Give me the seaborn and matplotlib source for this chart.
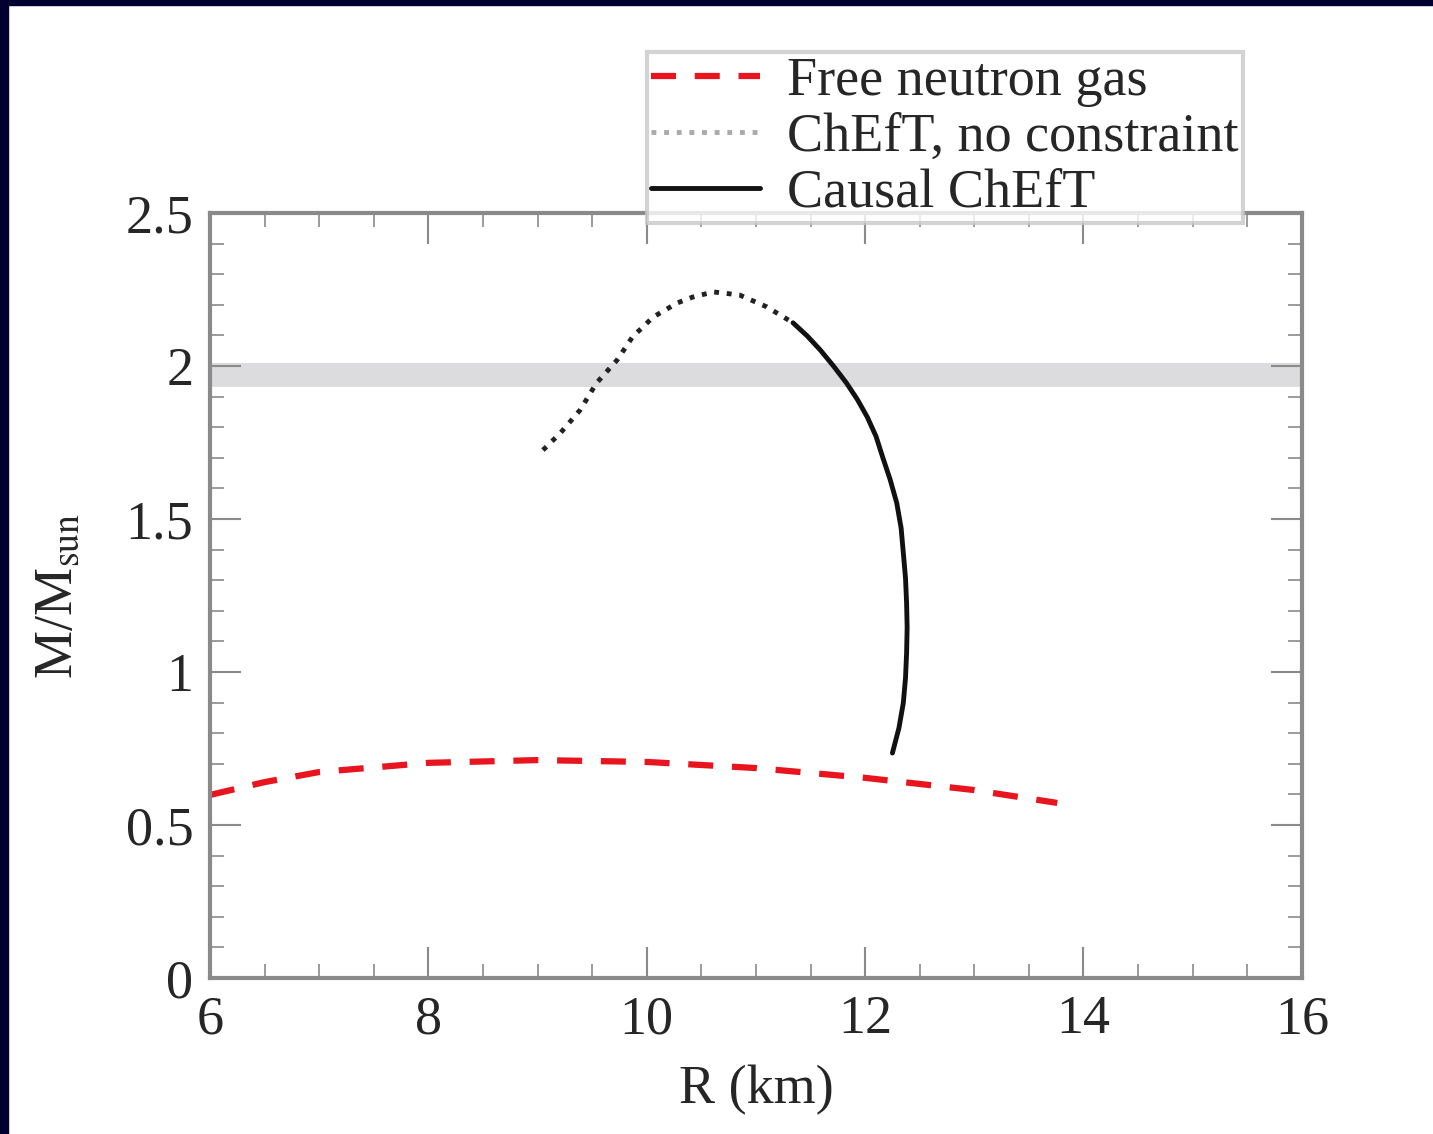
import numpy as np
import pandas as pd
import matplotlib.pyplot as plt
import seaborn as sns
from matplotlib.patches import Rectangle
from matplotlib.ticker import MultipleLocator

# free neutron gas M-R curve
free_r = [6.0, 6.5, 7.0, 8.0, 9.0, 10.0, 11.0, 12.0, 13.0, 13.76]
free_m = [0.598, 0.640, 0.673, 0.703, 0.712, 0.706, 0.686, 0.654, 0.614, 0.572]

# ChEfT without causality constraint (dotted part)
dot_r = [9.05, 9.21, 9.39, 9.54, 9.73, 9.87, 10.06, 10.28, 10.42, 10.61, 10.85, 11.10, 11.34]
dot_m = [1.725, 1.781, 1.856, 1.944, 2.020, 2.095, 2.160, 2.206, 2.225, 2.242, 2.232, 2.193, 2.141]

# causal ChEfT (solid part)
sol_r = [11.34, 11.47, 11.59, 11.71, 11.83, 11.93, 12.02, 12.10, 12.16, 12.23, 12.29,
         12.33, 12.35, 12.37, 12.38, 12.385, 12.38, 12.37, 12.35, 12.31, 12.25]
sol_m = [2.141, 2.098, 2.052, 2.000, 1.944, 1.890, 1.833, 1.770, 1.703, 1.628, 1.552,
         1.470, 1.389, 1.307, 1.225, 1.145, 1.062, 0.980, 0.899, 0.817, 0.735]

band_lo, band_hi = 1.93, 2.01

sns.set_style('ticks')
plt.rcParams['font.family'] = ['Liberation Serif', 'DejaVu Serif']
plt.rcParams['mathtext.fontset'] = 'stix'

fig = plt.figure(figsize=(14.33, 11.34), dpi=100)
ax = fig.add_axes([0.1465, 0.1376, 0.762, 0.6746])

ax.axhspan(band_lo, band_hi, color='#dcdcde', lw=0, zorder=0)

sns.lineplot(x=free_r, y=free_m, ax=ax, color='#e8141e', lw=4.5, sort=False,
             estimator=None, label='Free neutron gas')
ax.lines[-1].set_dashes([4, 3])
sns.lineplot(x=dot_r, y=dot_m, ax=ax, color='#222222', lw=3.5, sort=False,
             estimator=None, label='ChEfT, no constraint')
ax.lines[-1].set_linestyle((0, (1, 1.6)))
sns.lineplot(x=sol_r, y=sol_m, ax=ax, color='#111111', lw=3.5, sort=False,
             estimator=None, label='Causal ChEfT')

ax.set_xlim(6, 16)
ax.set_ylim(0, 2.5)
ax.xaxis.set_major_locator(MultipleLocator(2))
ax.xaxis.set_minor_locator(MultipleLocator(0.5))
ax.yaxis.set_major_locator(MultipleLocator(0.5))
ax.yaxis.set_minor_locator(MultipleLocator(0.1))
ax.set_xticks([6, 8, 10, 12, 14, 16], ['6', '8', '10', '12', '14', '16'])
ax.set_yticks([0, 0.5, 1, 1.5, 2, 2.5], ['0', '0.5', '1', '1.5', '2', '2.5'])

for s in ax.spines.values():
    s.set_color('#8a8a8a')
    s.set_linewidth(3)
ax.tick_params(which='both', direction='in', top=True, right=True, color='#8a8a8a')
ax.tick_params(which='major', length=22, width=1.5, labelsize=39, pad=12)
ax.tick_params(which='minor', length=10, width=1.2)

ax.set_xlabel('R (km)', fontsize=39, labelpad=14)
ax.set_ylabel(r'M/M$_{\rm sun}$', fontsize=39, labelpad=30)

handles, labels = ax.get_legend_handles_labels()
ax.get_legend().remove()
leg = fig.legend(handles, labels, loc='upper left', bbox_to_anchor=(0.4515, 0.954),
                 fontsize=39, frameon=True, fancybox=False, shadow=False,
                 handlelength=2.0, handletextpad=0.5, labelspacing=0.1,
                 borderpad=0.08, borderaxespad=0)
leg.get_frame().set_edgecolor('#c8c8c8')
leg.get_frame().set_linewidth(3)
leg.legend_handles[1].set_color('#aaaaaa')

# dark slide border on top and left
fig.patches.append(Rectangle((0, 0), 8 / 1433, 1, transform=fig.transFigure,
                             color='#000030', zorder=10))
fig.patches.append(Rectangle((0, 1 - 5 / 1134), 1, 5 / 1134, transform=fig.transFigure,
                             color='#000030', zorder=10))

fig.savefig('out.png', dpi=100)
